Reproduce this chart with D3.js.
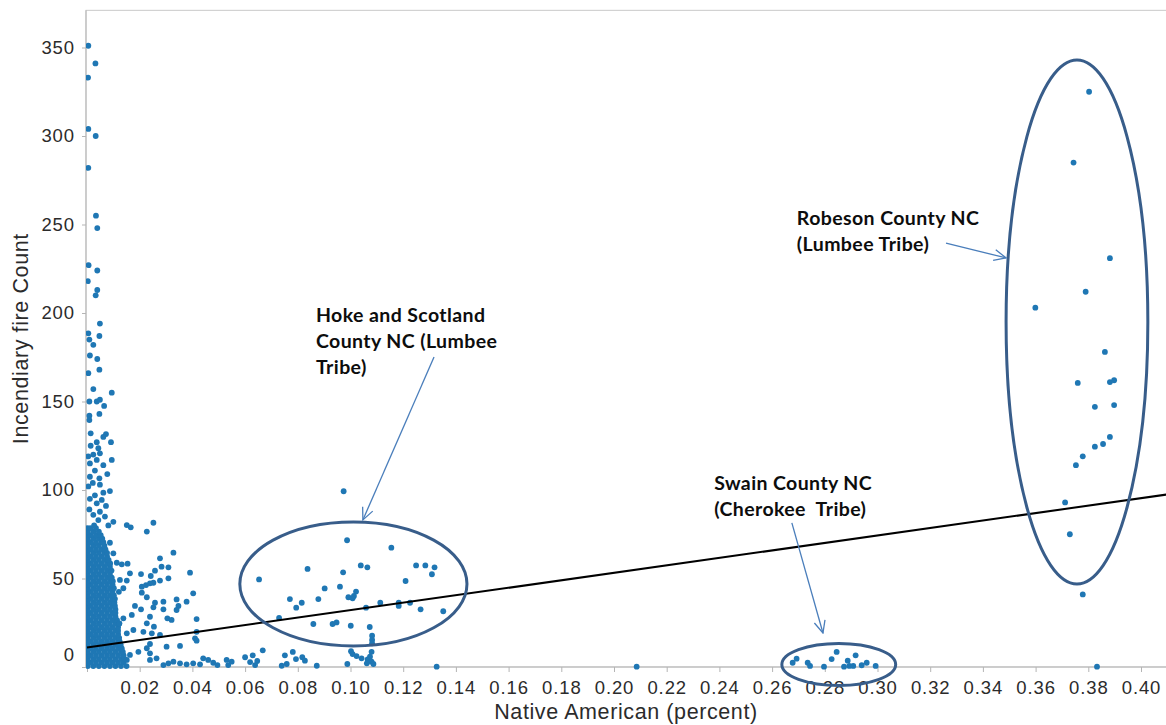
<!DOCTYPE html>
<html>
<head>
<meta charset="utf-8">
<script src="https://cdn.jsdelivr.net/npm/d3@7"></script>
<style>
  html, body { margin: 0; padding: 0; background: #ffffff; }
  svg { display: block; }
  .tick text { font-family: "Liberation Sans", Arial, sans-serif; font-size: 18.5px; fill: #2b2b2b; letter-spacing: 0.9px; }
  .axis-title { font-family: "Liberation Sans", Arial, sans-serif; font-size: 21.5px; fill: #2b2b2b; letter-spacing: 0.6px; }
  .note { font-family: Lato, "Open Sans", sans-serif; font-weight: 700; font-size: 19.5px; fill: #0d0d0d; letter-spacing: 0.4px; }
</style>
</head>
<body>
<svg id="chart" width="1166" height="725"></svg>
<script>
// ---- Axis ticks -------------------------------------------------------------
const xTickValues = [0, 0.02, 0.04, 0.06, 0.08, 0.10, 0.12, 0.14, 0.16, 0.18, 0.20,
                     0.22, 0.24, 0.26, 0.28, 0.30, 0.32, 0.34, 0.36, 0.38, 0.40];
const yTickValues = [0, 50, 100, 150, 200, 250, 300, 350];

// ---- County values: [Native American share, incendiary fire count] ---------
// Counties with almost no Native American population: dense band on the axis.
const denseCounts = [0.5, 2.5, 4.5, 6.5, 8.5, 10.5, 12.5, 14.5, 16.5, 18.5,
                     20.5, 22.5, 24.5, 26.5, 28.5, 30.5, 32.5, 34.5, 36.5, 38.5,
                     40.5, 42.5, 44.5, 46.5, 48.5, 50.5, 52.5, 54.5, 56.5, 58.5,
                     60.5, 62.5, 64.5, 66.5, 68.5, 70.5, 72.5, 74.5, 76.5, 78.5];
const denseShares = [
  [0.0003, 0.0024, 0.0045, 0.0066, 0.0087, 0.0108, 0.0129, 0.0150],
  [0.0002, 0.0013, 0.0034, 0.0055, 0.0076, 0.0097, 0.0118, 0.0139],
  [0.0003, 0.0024, 0.0045, 0.0066, 0.0087, 0.0108, 0.0129, 0.0142],
  [0.0002, 0.0013, 0.0034, 0.0055, 0.0076, 0.0097, 0.0118, 0.0139],
  [0.0003, 0.0024, 0.0045, 0.0066, 0.0087, 0.0108, 0.0129, 0.0136],
  [0.0002, 0.0013, 0.0034, 0.0055, 0.0076, 0.0097, 0.0118, 0.0132],
  [0.0003, 0.0024, 0.0045, 0.0066, 0.0087, 0.0108, 0.0128],
  [0.0002, 0.0013, 0.0034, 0.0055, 0.0076, 0.0097, 0.0118, 0.0124],
  [0.0003, 0.0024, 0.0045, 0.0066, 0.0087, 0.0108, 0.0122],
  [0.0002, 0.0013, 0.0034, 0.0055, 0.0076, 0.0097, 0.0118],
  [0.0003, 0.0024, 0.0045, 0.0066, 0.0087, 0.0108, 0.0118],
  [0.0002, 0.0013, 0.0034, 0.0055, 0.0076, 0.0097, 0.0118],
  [0.0003, 0.0024, 0.0045, 0.0066, 0.0087, 0.0108, 0.0122],
  [0.0002, 0.0013, 0.0034, 0.0055, 0.0076, 0.0097, 0.0114],
  [0.0003, 0.0024, 0.0045, 0.0066, 0.0087, 0.0108],
  [0.0002, 0.0013, 0.0034, 0.0055, 0.0076, 0.0097, 0.0108],
  [0.0003, 0.0024, 0.0045, 0.0066, 0.0087, 0.0108],
  [0.0002, 0.0013, 0.0034, 0.0055, 0.0076, 0.0097, 0.0106],
  [0.0003, 0.0024, 0.0045, 0.0066, 0.0087, 0.0104],
  [0.0002, 0.0013, 0.0034, 0.0055, 0.0076, 0.0097, 0.0106],
  [0.0003, 0.0024, 0.0045, 0.0066, 0.0087, 0.0102],
  [0.0002, 0.0013, 0.0034, 0.0055, 0.0076, 0.0097],
  [0.0003, 0.0024, 0.0045, 0.0066, 0.0087, 0.0102],
  [0.0002, 0.0013, 0.0034, 0.0055, 0.0076, 0.0097],
  [0.0003, 0.0024, 0.0045, 0.0066, 0.0087, 0.0098],
  [0.0002, 0.0013, 0.0034, 0.0055, 0.0076, 0.0094],
  [0.0003, 0.0024, 0.0045, 0.0066, 0.0087],
  [0.0002, 0.0013, 0.0034, 0.0055, 0.0076, 0.0093],
  [0.0003, 0.0024, 0.0045, 0.0066, 0.0087],
  [0.0002, 0.0013, 0.0034, 0.0055, 0.0076, 0.0088],
  [0.0003, 0.0024, 0.0045, 0.0066, 0.0082],
  [0.0002, 0.0013, 0.0034, 0.0055, 0.0076],
  [0.0003, 0.0024, 0.0045, 0.0066, 0.0076],
  [0.0002, 0.0013, 0.0034, 0.0055, 0.0070],
  [0.0003, 0.0024, 0.0045, 0.0066],
  [0.0002, 0.0013, 0.0034, 0.0055, 0.0062],
  [0.0003, 0.0024, 0.0045, 0.0058],
  [0.0002, 0.0013, 0.0034, 0.0052],
  [0.0003, 0.0024, 0.0045],
  [0.0002, 0.0013, 0.0034]
];

// Low-share counties with very high counts.
const upperTail = [
  [0.0005, 351], [0.0032, 341], [0.0004, 333], [0.0005, 304], [0.0033, 300],
  [0.0005, 282], [0.0034, 255], [0.0039, 248], [0.0006, 227], [0.0039, 224],
  [0.0003, 218], [0.0039, 213], [0.0033, 210], [0.0049, 194], [0.0005, 188.5],
  [0.0047, 187], [0.0009, 185], [0.0024, 182], [0.0011, 176], [0.0039, 174]
];

// Low-share counties between roughly 80 and 170 fires.
const midBand = [
  [0.0005, 166], [0.0047, 168], [0.0024, 157], [0.0094, 155], [0.0009, 150],
  [0.0037, 150], [0.0049, 151], [0.0065, 147.5], [0.0047, 143], [0.0009, 142],
  [0.0009, 139.5], [0.0014, 132], [0.0072, 131.6], [0.0062, 130], [0.0091, 127],
  [0.0037, 127], [0.0014, 125], [0.0043, 123.6], [0.0024, 120], [0.0049, 120.7],
  [0.0005, 119], [0.0094, 117], [0.0037, 117], [0.0011, 115], [0.0062, 114],
  [0.0030, 111], [0.0077, 109], [0.0011, 107.5], [0.0047, 106.6], [0.0022, 104],
  [0.0049, 103], [0.0005, 102], [0.0062, 98.5], [0.0087, 99.4], [0.0030, 97],
  [0.0011, 95], [0.0056, 94.4], [0.0037, 92.5], [0.0072, 91], [0.0009, 89],
  [0.0049, 87.7], [0.0024, 86], [0.0068, 85], [0.0043, 83], [0.0100, 82],
  [0.0081, 80], [0.0027, 80], [0.0087, 70.2], [0.0100, 64.2]
];

// Counties between 1% and 6% Native American.
const spreadPoints = [
  [0.0151, 80.2], [0.0166, 78.9], [0.0252, 81.5], [0.0227, 76.5], [0.0328, 64.6],
  [0.0277, 61.4], [0.0113, 58.9], [0.0132, 58.0], [0.0154, 58.4], [0.0283, 56.7],
  [0.0309, 56.3], [0.0258, 54.4], [0.0391, 53.3], [0.0205, 52.5], [0.0163, 52.9],
  [0.0242, 51.4], [0.0125, 49.2], [0.0151, 48.8], [0.0309, 50.1], [0.0277, 48.8],
  [0.0252, 47.6], [0.0239, 47.3], [0.0224, 46.3], [0.0208, 45.4], [0.0138, 44.5],
  [0.0121, 42.5], [0.0208, 42.0], [0.0403, 41.6], [0.0227, 39.4], [0.0258, 36.3],
  [0.0290, 36.9], [0.0340, 38.2], [0.0378, 36.9], [0.0347, 34.5], [0.0340, 32.2],
  [0.0182, 34.5], [0.0205, 32.6], [0.0252, 33.7], [0.0290, 32.6], [0.0305, 27.5],
  [0.0321, 26.6], [0.0416, 27.1], [0.0239, 28.4], [0.0170, 29.4], [0.0138, 27.5],
  [0.0123, 24.7], [0.0227, 24.7], [0.0254, 22.8], [0.0277, 18.1], [0.0246, 19.0],
  [0.0214, 19.9], [0.0176, 20.9], [0.0151, 19.0], [0.0416, 19.9], [0.0410, 16.2],
  [0.0416, 14.9], [0.0353, 11.9], [0.0302, 11.5], [0.0239, 13.0], [0.0239, 7.7],
  [0.0227, 10.6], [0.0195, 8.6], [0.0163, 6.8], [0.0151, 4.0], [0.0239, 4.0],
  [0.0264, 4.9], [0.0309, 2.1], [0.0328, 3.0], [0.0353, 2.1], [0.0378, 1.5],
  [0.0403, 2.1], [0.0441, 4.9], [0.0460, 4.0], [0.0479, 2.4], [0.0530, 4.0],
  [0.0549, 3.0], [0.0536, 1.1], [0.0290, 1.1], [0.0429, 1.5], [0.0495, 1.1],
  [0.0600, 5.5], [0.0629, 6.6], [0.0667, 9.4], [0.0619, 2.8], [0.0646, 3.4],
  [0.0638, 1.1], [0.0751, 6.6], [0.0781, 8.5], [0.0793, 4.5], [0.0817, 5.5],
  [0.0827, 3.6], [0.0758, 1.7], [0.0739, 0.7], [0.0872, 0.7], [0.1002, 8.9],
  [0.1008, 7.3], [0.1023, 6.2], [0.1042, 4.9], [0.1065, 4.3], [0.1080, 8.6],
  [0.1074, 5.8], [0.1080, 3.0], [0.1087, 1.7], [0.0988, 1.7], [0.1062, 2.1],
  [0.1327, 0.2], [0.2086, 0.2]
];

// Hoke and Scotland counties (Lumbee Tribe).
const hokeScotland = [
  [0.0974, 99.3], [0.0987, 71.6], [0.1155, 67.4], [0.1039, 57.4], [0.1064, 56.3],
  [0.1249, 57.4], [0.1284, 57.4], [0.1319, 56.3], [0.1309, 52.4], [0.0837, 55.4],
  [0.0972, 53.5], [0.0653, 49.5], [0.1209, 48.6], [0.0902, 44.4], [0.0960, 45.4],
  [0.1021, 42.6], [0.1013, 40.1], [0.0992, 39.4], [0.1008, 38.8], [0.0770, 38.4],
  [0.0878, 38.4], [0.0815, 36.3], [0.0794, 33.5], [0.1113, 36.3], [0.1059, 33.5],
  [0.1183, 36.3], [0.1183, 34.5], [0.1226, 36.3], [0.1266, 32.6], [0.1352, 31.5],
  [0.0729, 27.7], [0.0859, 24.3], [0.0932, 24.3], [0.0947, 25.2], [0.1001, 23.3],
  [0.1073, 22.6], [0.1082, 17.7], [0.1082, 15.3], [0.1082, 13.4]
];

// Swain County (Cherokee Tribe).
const swain = [
  [0.2678, 2.4], [0.2693, 4.7], [0.2735, 2.4], [0.2744, 0.6], [0.2797, 0.2],
  [0.2826, 4.5], [0.2845, 8.5], [0.2887, 3.6], [0.2893, 0.6], [0.2908, 0.6],
  [0.2917, 6.6], [0.2940, 1.0], [0.2959, 2.4], [0.2993, 0.6], [0.2873, 0.2]
];

// Robeson County (Lumbee Tribe).
const robeson = [
  [0.3803, 325], [0.3744, 285], [0.3882, 231], [0.3790, 212], [0.3599, 203],
  [0.3863, 178], [0.3760, 160.5], [0.3882, 161], [0.3898, 162], [0.3825, 147],
  [0.3898, 148], [0.3882, 130], [0.3856, 126], [0.3825, 124.5], [0.3779, 119],
  [0.3753, 114], [0.3712, 93], [0.3730, 75], [0.3779, 41], [0.3833, 0.2]
];

// Least-squares trend line (share -> count).
const trendShares = [0, 0.41];
const trendCounts = [11, 97.5];

// ---- Layout ----------------------------------------------------------------
const W = 1166, H = 725;
const svg = d3.select("#chart");

const x = d3.scaleLinear().domain([0, 0.4]).range([87, 1141]);
const y = d3.scaleLinear().domain([0, 350]).range([667, 47.5]);

const plotLeft = x(0) - 1, plotTop = y(371), plotBottom = y(0), plotRight = W + 5;

// Frame around the plot area
svg.append("rect")
  .attr("x", plotLeft).attr("y", plotTop)
  .attr("width", plotRight - plotLeft).attr("height", plotBottom - plotTop)
  .attr("fill", "none").attr("stroke", "#c9c9c9").attr("stroke-width", 1);

svg.append("defs").append("clipPath").attr("id", "plot-clip")
  .append("rect")
  .attr("x", plotLeft).attr("y", plotTop)
  .attr("width", plotRight - plotLeft).attr("height", plotBottom - plotTop + 3);

// ---- Axes ------------------------------------------------------------------
const xAxis = d3.axisBottom(x)
  .tickValues(xTickValues)
  .tickSize(5).tickPadding(9)
  .tickFormat(d => d === 0 ? "" : d.toFixed(2));

const gx = svg.append("g").attr("transform", `translate(0,${plotBottom})`).call(xAxis);
gx.select(".domain").remove();
gx.selectAll(".tick line").attr("stroke", "#b5b5b5");

const yAxis = d3.axisLeft(y)
  .tickValues(yTickValues)
  .tickSize(4).tickPadding(7)
  .tickFormat(d3.format("d"));

const gy = svg.append("g").attr("transform", `translate(${plotLeft},0)`).call(yAxis);
gy.select(".domain").remove();
gy.selectAll(".tick line").attr("stroke", "#b5b5b5");
// keep the zero label inside the plot's vertical extent
gy.selectAll(".tick").filter(d => d === 0).select("text").attr("y", -12);

// Axis lines
svg.append("line")
  .attr("x1", plotLeft).attr("x2", plotRight)
  .attr("y1", plotBottom).attr("y2", plotBottom)
  .attr("stroke", "#b5b5b5");
svg.append("line")
  .attr("x1", plotLeft).attr("x2", plotLeft)
  .attr("y1", plotTop).attr("y2", plotBottom)
  .attr("stroke", "#b5b5b5");

svg.append("text").attr("class", "axis-title")
  .attr("x", (plotLeft + W) / 2).attr("y", 719)
  .attr("text-anchor", "middle")
  .text("Native American (percent)");

svg.append("text").attr("class", "axis-title")
  .attr("transform", `translate(28,${(plotTop + plotBottom) / 2}) rotate(-90)`)
  .attr("text-anchor", "middle")
  .text("Incendiary fire Count");

// ---- Points ----------------------------------------------------------------
const densePoints = denseCounts.flatMap((c, i) => denseShares[i].map(s => [s, c]));
const allPoints = [].concat(densePoints, upperTail, midBand, spreadPoints,
                            hokeScotland, swain, robeson);

const plot = svg.append("g").attr("clip-path", "url(#plot-clip)");

plot.selectAll("circle.county")
  .data(allPoints)
  .join("circle")
  .attr("class", "county")
  .attr("cx", d => x(d[0]))
  .attr("cy", d => y(d[1]))
  .attr("r", 2.9)
  .attr("fill", "#1f77b4");

// Trend line
plot.append("line")
  .attr("x1", x(trendShares[0])).attr("y1", y(trendCounts[0]))
  .attr("x2", x(trendShares[1])).attr("y2", y(trendCounts[1]))
  .attr("stroke", "#000").attr("stroke-width", 2);

// ---- Annotations -----------------------------------------------------------
const ringColor = "#385d8a";
const arrowColor = "#4a7ebb";

const rings = [
  { cx: 0.1011, cy: 46.9, rx: 0.0431, ry: 35.0 },
  { cx: 0.2853, cy: 1.4, rx: 0.0216, ry: 11.9 },
  { cx: 0.3757, cy: 194.9, rx: 0.0269, ry: 148 }
];

svg.selectAll("ellipse.ring")
  .data(rings)
  .join("ellipse")
  .attr("class", "ring")
  .attr("cx", d => x(d.cx))
  .attr("cy", d => y(d.cy))
  .attr("rx", d => x(d.cx + d.rx) - x(d.cx))
  .attr("ry", d => y(d.cy - d.ry) - y(d.cy))
  .attr("fill", "none")
  .attr("stroke", ringColor)
  .attr("stroke-width", 3);

svg.select("defs").append("marker")
  .attr("id", "open-arrow")
  .attr("viewBox", "0 0 14 14")
  .attr("refX", 13).attr("refY", 7)
  .attr("markerWidth", 14).attr("markerHeight", 14)
  .attr("markerUnits", "userSpaceOnUse")
  .attr("orient", "auto")
  .append("path")
  .attr("d", "M1,1.5 L13,7 L1,12.5")
  .attr("fill", "none")
  .attr("stroke", arrowColor)
  .attr("stroke-width", 1.3);

const arrows = [
  { from: [0.1317, 175.1], to: [0.1047, 83.1] },
  { from: [0.2675, 81.4], to: [0.2793, 19.2] },
  { from: [0.3260, 239.5], to: [0.3488, 231.1] }
];

svg.selectAll("line.pointer")
  .data(arrows)
  .join("line")
  .attr("class", "pointer")
  .attr("x1", d => x(d.from[0])).attr("y1", d => y(d.from[1]))
  .attr("x2", d => x(d.to[0])).attr("y2", d => y(d.to[1]))
  .attr("stroke", arrowColor)
  .attr("stroke-width", 1.3)
  .attr("marker-end", "url(#open-arrow)");

const notes = [
  { at: [0.0869, 195], lines: ["Hoke and Scotland", "County NC (Lumbee", "Tribe)"] },
  { at: [0.2380, 100], lines: ["Swain County NC", "(Cherokee\u00a0 Tribe)"] },
  { at: [0.2694, 249.7], lines: ["Robeson County NC", "(Lumbee Tribe)"] }
];

notes.forEach(n => {
  const t = svg.append("text").attr("class", "note")
    .attr("x", x(n.at[0])).attr("y", y(n.at[1]));
  n.lines.forEach((line, i) => {
    t.append("tspan")
      .attr("x", x(n.at[0]))
      .attr("dy", i === 0 ? 0 : 26)
      .text(line);
  });
});
</script>
</body>
</html>
